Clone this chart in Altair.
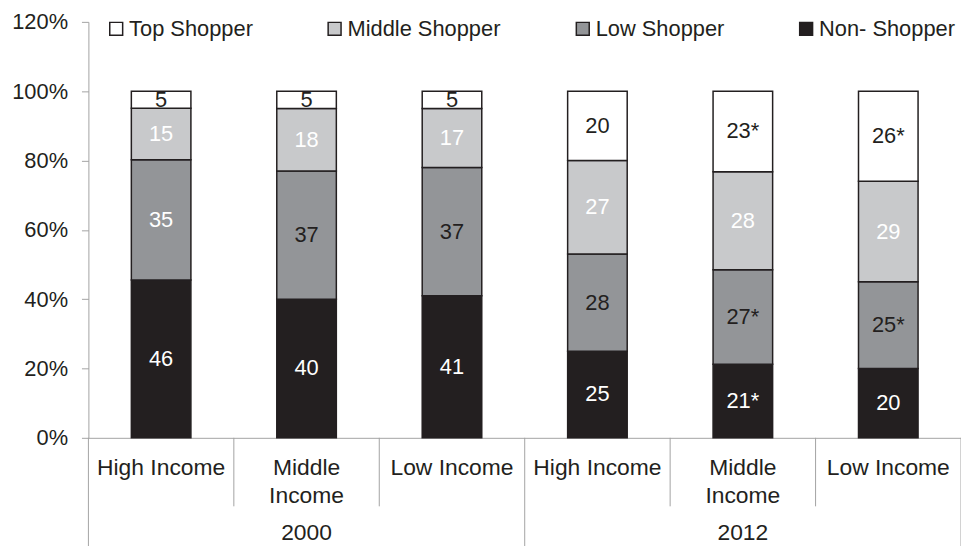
import altair as alt
import pandas as pd

# ---- data ----
years = ["2000", "2000", "2000", "2012", "2012", "2012"]
incomes = ["High Income", "Middle Income", "Low Income",
           "High Income", "Middle Income", "Low Income"]
series = ["Top Shopper", "Middle Shopper", "Low Shopper", "Non- Shopper"]
non_shopper = [46, 40, 41, 25, 21, 20]
low_shopper = [35, 37, 37, 28, 27, 25]
middle_shopper = [15, 18, 17, 27, 28, 29]
top_shopper = [5, 5, 5, 20, 23, 26]
non_star = [False, False, False, False, True, False]
low_star = [False, False, False, False, True, True]
middle_star = [False, False, False, False, False, False]
top_star = [False, False, False, False, True, True]
y_ticks = [0, 0.2, 0.4, 0.6, 0.8, 1.0, 1.2]

# ---- styles ----
FONT = "Liberation Sans"
INK = "#231F20"
AXIS_GRAY = "#A3A3A3"
colors = ["#FFFFFF", "#C8C9CB", "#939598", "#231F20"]
white_label_series = {"Non- Shopper", "Middle Shopper"}
white_label_extra = {("2000", "High Income", "Low Shopper")}

cats = [f"{y}|{i}" for y, i in zip(years, incomes)]
values_by_series = {
    "Non- Shopper": (non_shopper, non_star),
    "Low Shopper": (low_shopper, low_star),
    "Middle Shopper": (middle_shopper, middle_star),
    "Top Shopper": (top_shopper, top_star),
}
stack_order = {"Non- Shopper": 0, "Low Shopper": 1, "Middle Shopper": 2, "Top Shopper": 3}

rows = []
for s, (vals, stars) in values_by_series.items():
    for k, (c, y, inc) in enumerate(zip(cats, years, incomes)):
        white = s in white_label_series or (y, inc, s) in white_label_extra
        rows.append({
            "cat": c, "year": y, "income": inc, "series": s,
            "order": stack_order[s], "value": vals[k],
            "label": f"{vals[k]}{'*' if stars[k] else ''}",
            "lc": "#FFFFFF" if white else INK,
        })
df = pd.DataFrame(rows)

W, H = 879, 419

x_enc_axis = alt.Axis(
    title=None, ticks=False, domainColor=AXIS_GRAY, domainWidth=1,
    labelFont=FONT, labelFontSize=23, labelColor=INK, labelAngle=0,
    labelPadding=19, labelLineHeight=28, labelBaseline="top",
    labelExpr="length(split(datum.label,'|')[1]) > 11 ? split(split(datum.label,'|')[1], ' ') : split(datum.label,'|')[1]",
)
x_scale = alt.Scale(domain=cats, paddingInner=0, paddingOuter=0)

base = alt.Chart(df).transform_stack(
    stack="value", groupby=["cat"], as_=["v0", "v1"], offset="normalize",
    sort=[alt.SortField("order", order="ascending")],
).transform_calculate(mid="(datum.v0 + datum.v1) / 2")

bars = base.mark_bar(size=60, stroke=INK, strokeWidth=1.5).encode(
    x=alt.X("cat:N", scale=x_scale, axis=x_enc_axis, sort=cats),
    y=alt.Y("v0:Q", scale=alt.Scale(domain=[0, 1.2], nice=False, zero=True),
            axis=alt.Axis(title=None, values=y_ticks, format=".0%", grid=False,
                          domainColor=AXIS_GRAY, tickColor=AXIS_GRAY, tickSize=7,
                          labelFont=FONT, labelFontSize=22, labelColor=INK,
                          labelPadding=14)),
    y2="v1:Q",
    color=alt.Color("series:N", scale=alt.Scale(domain=series, range=colors),
                    legend=alt.Legend(
                        title=None, orient="none", direction="horizontal",
                        legendX=17, legendY=-4, symbolType="square", symbolSize=169,
                        symbolStrokeColor=INK, symbolStrokeWidth=1.5,
                        labelFont=FONT, labelFontSize=22, labelColor=INK,
                        labelOffset=2, columnPadding=71, padding=0, labelLimit=400)),
)

labels = base.mark_text(font=FONT, fontSize=22, baseline="middle", align="center").encode(
    x=alt.X("cat:N", sort=cats),
    y=alt.Y("mid:Q"),
    text="label:N",
    fill=alt.Fill("lc:N", scale=None),
)

# separators of the two-level category axis
first_of_year = [c for k, c in enumerate(cats) if k == 0 or years[k] != years[k - 1]]
inner = [c for c in cats if c not in first_of_year]
sep_inner = alt.Chart(pd.DataFrame({"cat": inner})).mark_rule(color=AXIS_GRAY, strokeWidth=1).encode(
    x=alt.X("cat:N", sort=cats, bandPosition=0),
    y=alt.value(H), y2=alt.value(H + 69),
)
sep_year = alt.Chart(pd.DataFrame({"cat": first_of_year})).mark_rule(color=AXIS_GRAY, strokeWidth=1).encode(
    x=alt.X("cat:N", sort=cats, bandPosition=0),
    y=alt.value(H), y2=alt.value(H + 110),
)
sep_end = alt.Chart(pd.DataFrame({"cat": [cats[-1]]})).mark_rule(color=AXIS_GRAY, strokeWidth=1).encode(
    x=alt.X("cat:N", sort=cats, bandPosition=1),
    y=alt.value(H), y2=alt.value(H + 110),
)

# year labels centred under each year group
year_rows = []
for y in dict.fromkeys(years):
    members = [c for c, yy in zip(cats, years) if yy == y]
    year_rows.append({"cat": members[len(members) // 2], "year": y})
year_text = alt.Chart(pd.DataFrame(year_rows)).mark_text(
    font=FONT, fontSize=23, color=INK, baseline="middle", align="center"
).encode(
    x=alt.X("cat:N", sort=cats),
    y=alt.value(H + 96),
    text="year:N",
)

chart = alt.layer(bars, labels, sep_inner, sep_year, sep_end, year_text).properties(
    width=W, height=H,
    autosize=alt.AutoSizeParams(type="none"),
    padding={"left": 81, "top": 12, "right": 0, "bottom": 107},
).configure_view(stroke=None)

chart.save("out.html", embed_options={"renderer": "svg", "actions": False})
